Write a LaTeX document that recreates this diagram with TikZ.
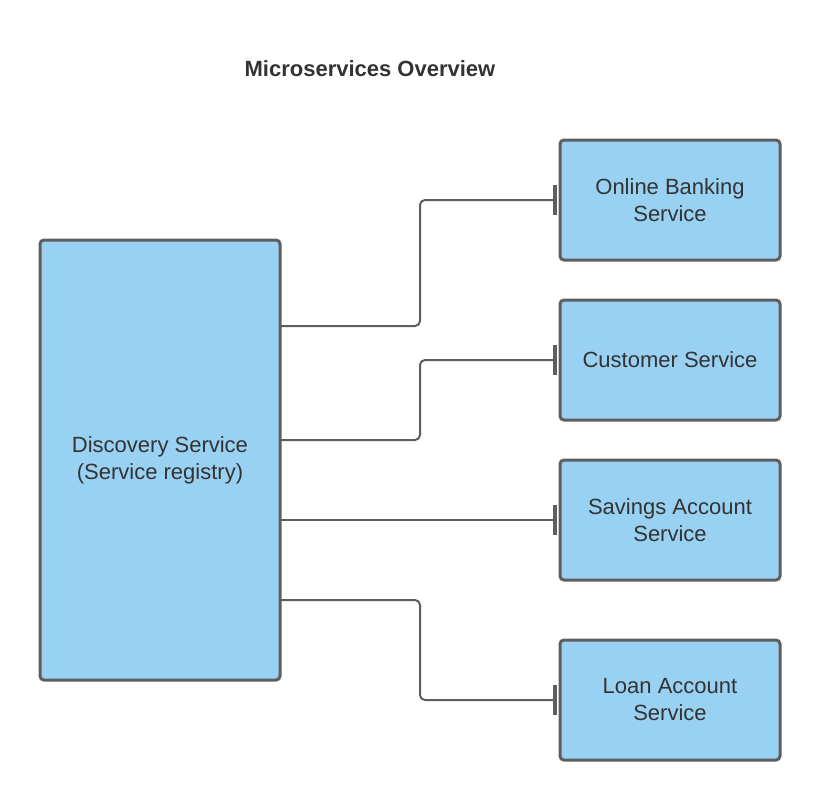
\documentclass[tikz,border=0pt]{standalone}
\usepackage{fontspec}
\setmainfont{Liberation Sans}
\usetikzlibrary{arrows.meta}
\definecolor{boxfill}{HTML}{99D1F2}
\definecolor{boxline}{HTML}{5E5E5E}
\definecolor{txt}{HTML}{333333}
\tikzset{
  svc/.style={draw=boxline, fill=boxfill, line width=3pt, rounded corners=4pt,
    minimum width=220pt, minimum height=120pt, align=center, text=txt,
    font=\fontsize{22}{27}\selectfont, inner sep=0pt},
  conn/.style={draw=boxline, line width=2pt, rounded corners=5pt,
    -{Bar[width=30pt,line width=4pt]}},
}
\begin{document}
\begin{tikzpicture}[x=1pt,y=-1pt]
\useasboundingbox (0,0) rectangle (820,800);
\node[font=\bfseries\fontsize{22}{26}\selectfont, text=txt] (title) at (370,69) {Microservices Overview};
\node[svc, minimum width=240pt, minimum height=440pt] (disc) at (160,460) {Discovery Service\\(Service registry)};
\node[svc] (ob) at (670,200) {Online Banking\\Service};
\node[svc] (cs) at (670,360) {Customer Service};
\node[svc] (sa) at (670,520) {Savings Account\\Service};
\node[svc] (la) at (670,700) {Loan Account\\Service};
\coordinate (d1) at (280,326);
\coordinate (d2) at (280,440);
\coordinate (d3) at (280,520);
\coordinate (d4) at (280,600);
\draw[conn] (d1) -- (420,326) -- (420,200) -- ([xshift=-1.5pt]ob.west);
\draw[conn] (d2) -- (420,440) -- (420,360) -- ([xshift=-1.5pt]cs.west);
\draw[conn] (d3) -- ([xshift=-1.5pt]sa.west);
\draw[conn] (d4) -- (420,600) -- (420,700) -- ([xshift=-1.5pt]la.west);
\end{tikzpicture}
\end{document}
